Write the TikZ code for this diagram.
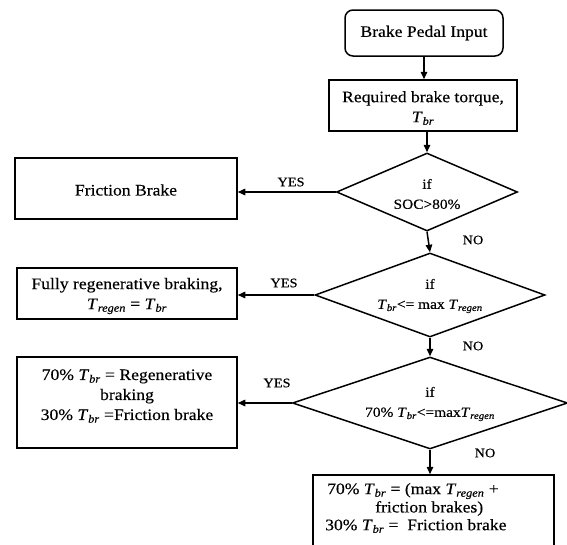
\documentclass[tikz,border=0pt]{standalone}
\usepackage{fontspec}
\setmainfont{Liberation Serif}[FakeStretch=1.1,FakeBold=0.3]
\usetikzlibrary{shapes.geometric,arrows.meta}
\newcommand{\Tsb}[1]{\textit{T}\textsubscript{\textit{#1}}}
\begin{document}
\begin{tikzpicture}[x=1pt,y=-1pt,
  box/.style={draw,line width=1.5pt,rectangle,inner sep=0pt},
  dec/.style={draw,line width=1.5pt,diamond,inner sep=0pt},
  txt/.style={font=\fontsize{16}{20}\selectfont,align=center,inner sep=0pt},
  dtxt/.style={font=\fontsize{14}{20}\selectfont,align=center,inner sep=0pt},
  lbl/.style={font=\fontsize{13}{15}\selectfont,inner sep=0pt},
  arr/.style={line width=1.5pt,-{Triangle[length=7.5pt,width=6.5pt]}}]
\useasboundingbox (0,0) rectangle (567,544);
\fill[white] (0,0) rectangle (567,544);
% boxes
\node[box,rounded corners=8pt,minimum width=158pt,minimum height=46pt] (pedal) at (424,33) {};
\node[txt] (pedalt) at (pedal) {Brake Pedal Input};
\node[box,minimum width=188pt,minimum height=51pt] (req) at (423,105.5) {};
\node[txt] (reqt) at (423,108) {Required brake torque,\\ \Tsb{br}};
\node[box,minimum width=222pt,minimum height=61pt] (fric) at (126,188.5) {};
\node[txt] (frict) at (126,190) {Friction Brake};
\node[box,minimum width=220pt,minimum height=51pt] (regen) at (127,293.5) {};
\node[txt] (regent) at (127,296) {Fully regenerative braking,\\ \Tsb{regen} = \Tsb{br}};
\node[box,minimum width=220pt,minimum height=91pt] (sev) at (127,402.5) {};
\node[txt] (sevt) at (127,396) {70\% \Tsb{br} = Regenerative\\ braking\\ 30\% \Tsb{br} =Friction brake};
\node[box,minimum width=241pt,minimum height=90pt] (last) at (433.5,520) {};
\node[txt,anchor=west] (l1) at (327,491) {70\% \Tsb{br} = (max \Tsb{regen} +};
\node[txt,anchor=west] (l2) at (375,508.5) {friction brakes)};
\node[txt,anchor=west] (l3) at (325,526) {30\% \Tsb{br} =\ \ Friction brake};
% diamonds
\node[dec,minimum width=181pt,minimum height=78pt] (d1) at (427,192) {};
\node[dtxt] (d1t) at (427,194) {if\\ SOC>80\%};
\node[dec,minimum width=230pt,minimum height=84pt] (d2) at (430,295) {};
\node[dtxt] (d2t) at (430,296) {if\\ \Tsb{br}<= max \Tsb{regen}};
\node[dec,minimum width=275pt,minimum height=92pt] (d3) at (430,403) {};
\node[dtxt] (d3t) at (430,404) {if\\ 70\% \Tsb{br}<=max\Tsb{regen}};
% connectors
\draw[arr] (pedal.south) -- (pedal.south |- req.north);
\draw[arr] (d1.north |- req.south) -- (d1.north);
\draw[arr] (d1.west) -- (d1.west -| fric.east);
\draw[arr] (d1.south) -- (d2.north);
\draw[arr] (d2.west) -- (d2.west -| regen.east);
\draw[arr] (d2.south) -- (d3.north);
\draw[arr] (d3.west) -- (d3.west -| sev.east);
\draw[arr] (d3.south) -- (d3.south |- last.north);
% labels
\node[lbl] (y1) at (291,182) {YES};
\node[lbl] (y2) at (284,283) {YES};
\node[lbl] (y3) at (277,383) {YES};
\node[lbl] (n1) at (473,240) {NO};
\node[lbl] (n2) at (473,346) {NO};
\node[lbl] (n3) at (485,453) {NO};
\end{tikzpicture}
\end{document}
